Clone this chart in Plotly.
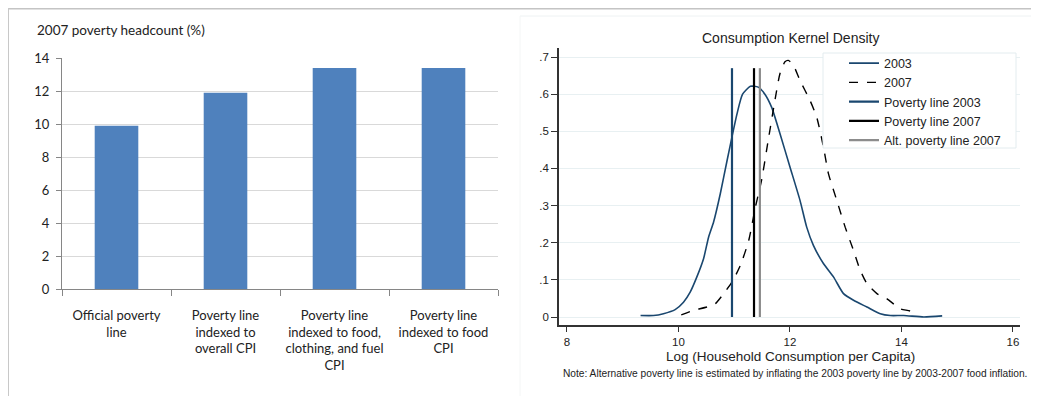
import plotly.graph_objects as go

# ---------------- Data ----------------
bar_categories = [
    "Official poverty<br>line",
    "Poverty line<br>indexed to<br>overall CPI",
    "Poverty line<br>indexed to food,<br>clothing, and fuel<br>CPI",
    "Poverty line<br>indexed to food<br>CPI",
]
headcount_2007 = [9.9, 11.9, 13.4, 13.4]

dens_2003_x = [9.32, 9.55, 9.73, 9.94, 10.09, 10.21, 10.33, 10.45, 10.54, 10.63, 10.75, 10.87,
               10.96, 11.05, 11.15, 11.29, 11.43, 11.55, 11.67, 11.82, 12.00, 12.18, 12.30,
               12.42, 12.60, 12.78, 12.96, 13.14, 13.38, 13.62, 13.80, 14.04, 14.40, 14.73]
dens_2003_y = [0.004, 0.004, 0.009, 0.020, 0.040, 0.067, 0.108, 0.157, 0.215, 0.256, 0.332, 0.420,
               0.485, 0.547, 0.600, 0.621, 0.619, 0.600, 0.565, 0.494, 0.404, 0.314, 0.242,
               0.193, 0.144, 0.108, 0.063, 0.045, 0.027, 0.009, 0.004, 0.004, 0.000, 0.003]

dens_2007_x = [10.05, 10.27, 10.51, 10.66, 10.81, 10.96, 11.11, 11.26, 11.38, 11.49, 11.61, 11.73,
               11.82, 11.91, 11.97, 12.06, 12.18, 12.36, 12.48, 12.60, 12.69, 12.84, 12.99,
               13.14, 13.26, 13.38, 13.56, 13.74, 13.98, 14.16, 14.28]
dens_2007_y = [0.006, 0.018, 0.027, 0.036, 0.063, 0.094, 0.139, 0.206, 0.296, 0.368, 0.476, 0.583,
               0.655, 0.687, 0.691, 0.678, 0.637, 0.583, 0.538, 0.458, 0.386, 0.314, 0.242,
               0.179, 0.126, 0.090, 0.063, 0.049, 0.022, 0.016, 0.004]

poverty_line_names = ["Poverty line 2003", "Poverty line 2007", "Alt. poverty line 2007"]
poverty_line_values = [10.96, 11.355, 11.46]
poverty_line_top = 0.67

y2_tickvals = [0, 0.1, 0.2, 0.3, 0.4, 0.5, 0.6, 0.7]
y2_ticktext = ["0", ".1", ".2", ".3", ".4", ".5", ".6", ".7"]
x2_tickvals = [8, 10, 12, 14, 16]

# ---------------- Figure ----------------
OFF = 8                      # page body margin
W, H = 1039 - OFF, 396 - OFF  # figure size that fits the window


def px(x):
    return (x - OFF) / W


def py(y):
    return 1 - (y - OFF) / H


LEFT_FONT = "Lato"
RIGHT_FONT = "Liberation Sans"
NAVY = "#1a476f"

fig = go.Figure()

fig.add_trace(go.Bar(
    x=bar_categories, y=headcount_2007, width=0.4,
    marker=dict(color="#4f81bd", line=dict(width=0)),
    xaxis="x", yaxis="y", showlegend=False,
))

fig.add_trace(go.Scatter(
    x=dens_2003_x, y=dens_2003_y, mode="lines", name="2003",
    line=dict(color=NAVY, width=1.6, shape="spline", smoothing=0.6),
    xaxis="x2", yaxis="y2",
))
fig.add_trace(go.Scatter(
    x=dens_2007_x, y=dens_2007_y, mode="lines", name="2007",
    line=dict(color="#000000", width=1.4, dash="dash", shape="spline", smoothing=0.6),
    xaxis="x2", yaxis="y2",
))
pl_colors = [NAVY, "#000000", "#8c8c8c"]
for name, val, col in zip(poverty_line_names, poverty_line_values, pl_colors):
    fig.add_trace(go.Scatter(
        x=[val, val], y=[0, poverty_line_top], mode="lines", name=name,
        line=dict(color=col, width=2.2),
        xaxis="x2", yaxis="y2",
    ))

fig.update_layout(
    width=W, height=H,
    margin=dict(l=0, r=0, t=0, b=0, autoexpand=False),
    paper_bgcolor="white", plot_bgcolor="white",
    font=dict(family=RIGHT_FONT, color="#222222"),
    xaxis=dict(
        domain=[px(62), px(498)], type="category", range=[-0.5, 3.5], automargin=False,
        tickson="boundaries", ticks="outside", ticklen=6, tickcolor="#868686",
        showline=True, linecolor="#868686", linewidth=1, showgrid=False,
        tickfont=dict(family=LEFT_FONT, size=13, color="#222222"),
        ticklabelstandoff=14,
    ),
    yaxis=dict(
        domain=[py(289), py(58)], range=[0, 14], dtick=2, automargin=False,
        showgrid=True, gridcolor="#d9d9d9", gridwidth=1,
        showline=True, linecolor="#868686", linewidth=1,
        ticks="outside", ticklen=5, tickcolor="#868686",
        tickfont=dict(family=LEFT_FONT, size=13, color="#222222"),
        zeroline=False, ticklabelstandoff=4,
    ),
    xaxis2=dict(
        domain=[px(559), px(1020)], range=[7.857, 16.126], anchor="y2", automargin=False,
        tickvals=x2_tickvals, ticks="outside", ticklen=5, tickcolor="#333333",
        showline=True, linecolor="#333333", linewidth=1.5, showgrid=False, zeroline=False,
        tickfont=dict(family=RIGHT_FONT, size=11.5, color="#222222"),
    ),
    yaxis2=dict(
        domain=[py(325), py(48)], range=[-0.0215, 0.7243], anchor="x2", automargin=False,
        tickvals=y2_tickvals, ticktext=y2_ticktext,
        ticks="outside", ticklen=6, tickcolor="#333333",
        showline=True, linecolor="#333333", linewidth=1.5,
        showgrid=True, gridcolor="#e8f0f2", gridwidth=1.2, zeroline=False,
        tickfont=dict(family=RIGHT_FONT, size=11.5, color="#222222"),
    ),
    legend=dict(
        x=px(844), y=py(48.5), xanchor="left", yanchor="top",
        bgcolor="rgba(0,0,0,0)", borderwidth=0,
        font=dict(family=RIGHT_FONT, size=12.5, color="#222222"),
        tracegroupgap=0,
    ),
    annotations=[
        dict(text="2007 poverty headcount (%)", x=px(35), y=py(30), xref="paper", yref="paper",
             xanchor="left", yanchor="middle", showarrow=False,
             font=dict(family=LEFT_FONT, size=13.5, color="#222222")),
        dict(text="Consumption Kernel Density", x=px(790), y=py(38), xref="paper", yref="paper",
             xanchor="center", yanchor="middle", showarrow=False,
             font=dict(family=RIGHT_FONT, size=14, color="#222222")),
        dict(text="Log (Household Consumption per Capita)", x=px(790), y=py(356),
             xref="paper", yref="paper", xanchor="center", yanchor="middle", showarrow=False,
             font=dict(family=RIGHT_FONT, size=13.5, color="#222222")),
        dict(text="Note: Alternative poverty line is estimated by inflating the 2003 poverty line by 2003-2007 food inflation.",
             x=px(561), y=py(373), xref="paper", yref="paper",
             xanchor="left", yanchor="middle", showarrow=False,
             font=dict(family=RIGHT_FONT, size=10.2, color="#222222")),
    ],
    shapes=[
        dict(type="line", xref="paper", yref="paper", x0=0, x1=1, y0=py(8.5), y1=py(8.5),
             line=dict(color="#c4c4c4", width=2)),
        dict(type="line", xref="paper", yref="paper", x0=px(8.5), x1=px(8.5), y0=py(8), y1=0,
             line=dict(color="#c8c8c8", width=1)),
        dict(type="line", xref="paper", yref="paper", x0=px(520), x1=1, y0=py(16), y1=py(16),
             line=dict(color="#eef2f3", width=1)),
        dict(type="line", xref="paper", yref="paper", x0=px(520), x1=px(520), y0=py(16), y1=0,
             line=dict(color="#f4f6f6", width=1)),
        dict(type="rect", xref="paper", yref="paper", x0=px(823), x1=px(1016), y0=py(148), y1=py(53),
             fillcolor="white", line=dict(color="#e3ecef", width=1), layer="above"),
    ],
)

fig.write_html("out.html")
